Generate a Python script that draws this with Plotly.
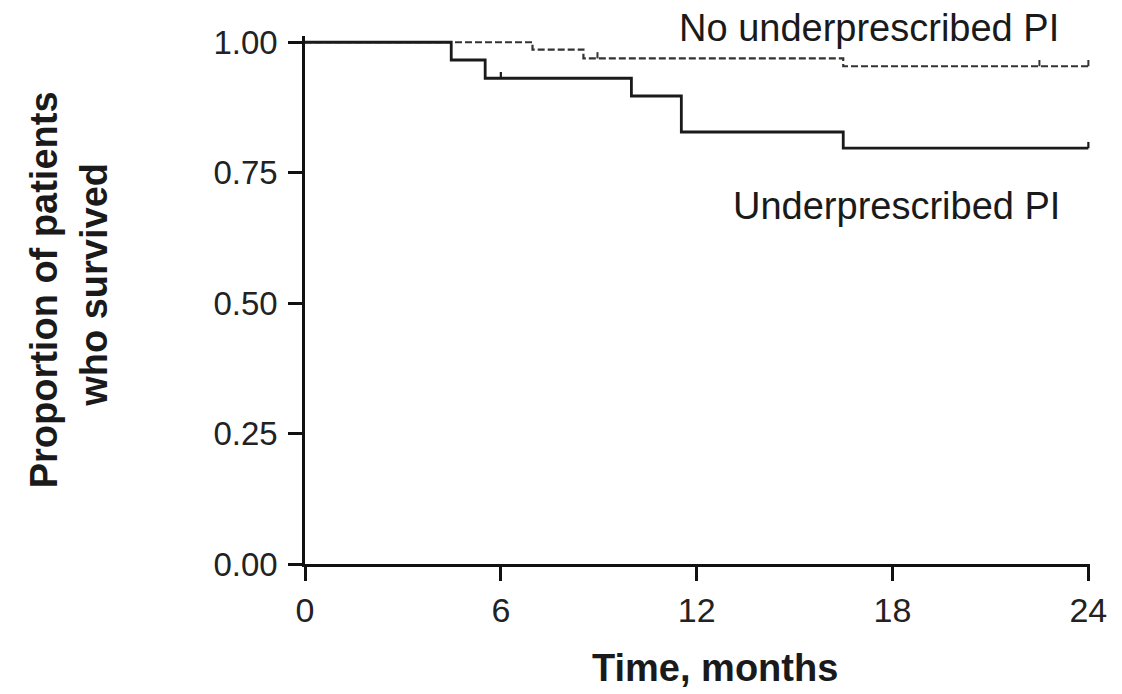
import plotly.graph_objects as go

# Kaplan-Meier estimates (months, proportion surviving)
under_time = [0, 4.48, 5.52, 10.0, 11.53, 16.49, 24]
under_surv = [1.0, 0.966, 0.931, 0.897, 0.828, 0.797, 0.797]
under_censor_time = [6.0, 24]
under_censor_surv = [0.931, 0.797]

noun_time = [0, 6.97, 8.53, 16.49, 24]
noun_surv = [1.0, 0.986, 0.969, 0.954, 0.954]
noun_censor_time = [8.96, 22.5, 24]
noun_censor_surv = [0.969, 0.954, 0.954]

x_ticks = [0, 6, 12, 18, 24]
y_ticks = [0.0, 0.25, 0.5, 0.75, 1.0]
y_tick_text = ["0.00", "0.25", "0.50", "0.75", "1.00"]

TICK_H = 0.012  # height of censoring ticks, in proportion units
FONT = "Liberation Sans, Arial, sans-serif"
INK = "#1a1a1a"


def censor_segments(ts, ss):
    xs, ys = [], []
    for t, s in zip(ts, ss):
        xs += [t, t, None]
        ys += [s, s + TICK_H, None]
    return xs, ys


fig = go.Figure()

# No underprescribed PI (dashed)
fig.add_trace(go.Scatter(x=noun_time, y=noun_surv, mode="lines", line_shape="hv",
                         line=dict(color="#333", width=2.2, dash="7px,3px"),
                         showlegend=False, hoverinfo="skip"))
cx, cy = censor_segments(noun_censor_time, noun_censor_surv)
fig.add_trace(go.Scatter(x=cx, y=cy, mode="lines", line=dict(color="#333", width=2),
                         showlegend=False, hoverinfo="skip"))

# Underprescribed PI (solid)
fig.add_trace(go.Scatter(x=under_time, y=under_surv, mode="lines", line_shape="hv",
                         line=dict(color=INK, width=2.8),
                         showlegend=False, hoverinfo="skip"))
cx, cy = censor_segments(under_censor_time, under_censor_surv)
fig.add_trace(go.Scatter(x=cx, y=cy, mode="lines", line=dict(color=INK, width=2.2),
                         showlegend=False, hoverinfo="skip"))

# Curve labels
fig.add_annotation(x=0.718, y=1.016, xref="paper", yref="paper", text="No underprescribed PI",
                   showarrow=False, xanchor="center", yanchor="middle",
                   font=dict(family=FONT, size=38, color=INK))
fig.add_annotation(x=18.13, y=0.686, xref="x", yref="y", text="Underprescribed PI",
                   showarrow=False, xanchor="center", yanchor="middle",
                   font=dict(family=FONT, size=38, color=INK))

# Axis titles
fig.add_annotation(x=0.522, y=-0.197, xref="paper", yref="paper", text="<b>Time, months</b>",
                   showarrow=False, xanchor="center", yanchor="middle",
                   font=dict(family=FONT, size=38, color=INK))
fig.add_annotation(x=-0.332, y=0.519, xref="paper", yref="paper",
                   text="<b>Proportion of patients</b>", textangle=-90,
                   showarrow=False, xanchor="center", yanchor="middle",
                   font=dict(family=FONT, size=38, color=INK))
fig.add_annotation(x=-0.268, y=0.528, xref="paper", yref="paper",
                   text="<b>who survived</b>", textangle=-90,
                   showarrow=False, xanchor="center", yanchor="middle",
                   font=dict(family=FONT, size=38, color=INK))

fig.update_xaxes(range=[0, 24.05], tickvals=x_ticks, ticktext=[str(v) for v in x_ticks],
                 showgrid=False, zeroline=False, showline=True, linecolor="#111", linewidth=2.5,
                 ticks="outside", ticklen=14, tickwidth=2.5, tickcolor="#111",
                 tickfont=dict(family=FONT, size=34, color="#222"))
fig.update_yaxes(range=[0, 1.012], tickvals=y_ticks, ticktext=y_tick_text,
                 showgrid=False, zeroline=False, showline=True, linecolor="#111", linewidth=2.5,
                 ticks="outside", ticklen=14, tickwidth=2.5, tickcolor="#111",
                 ticklabelstandoff=4,
                 tickfont=dict(family=FONT, size=33, color="#222"))

fig.update_layout(width=1122, height=694, margin=dict(l=305, r=32, t=36, b=130),
                  plot_bgcolor="white", paper_bgcolor="white")

fig.write_html("out.html")
